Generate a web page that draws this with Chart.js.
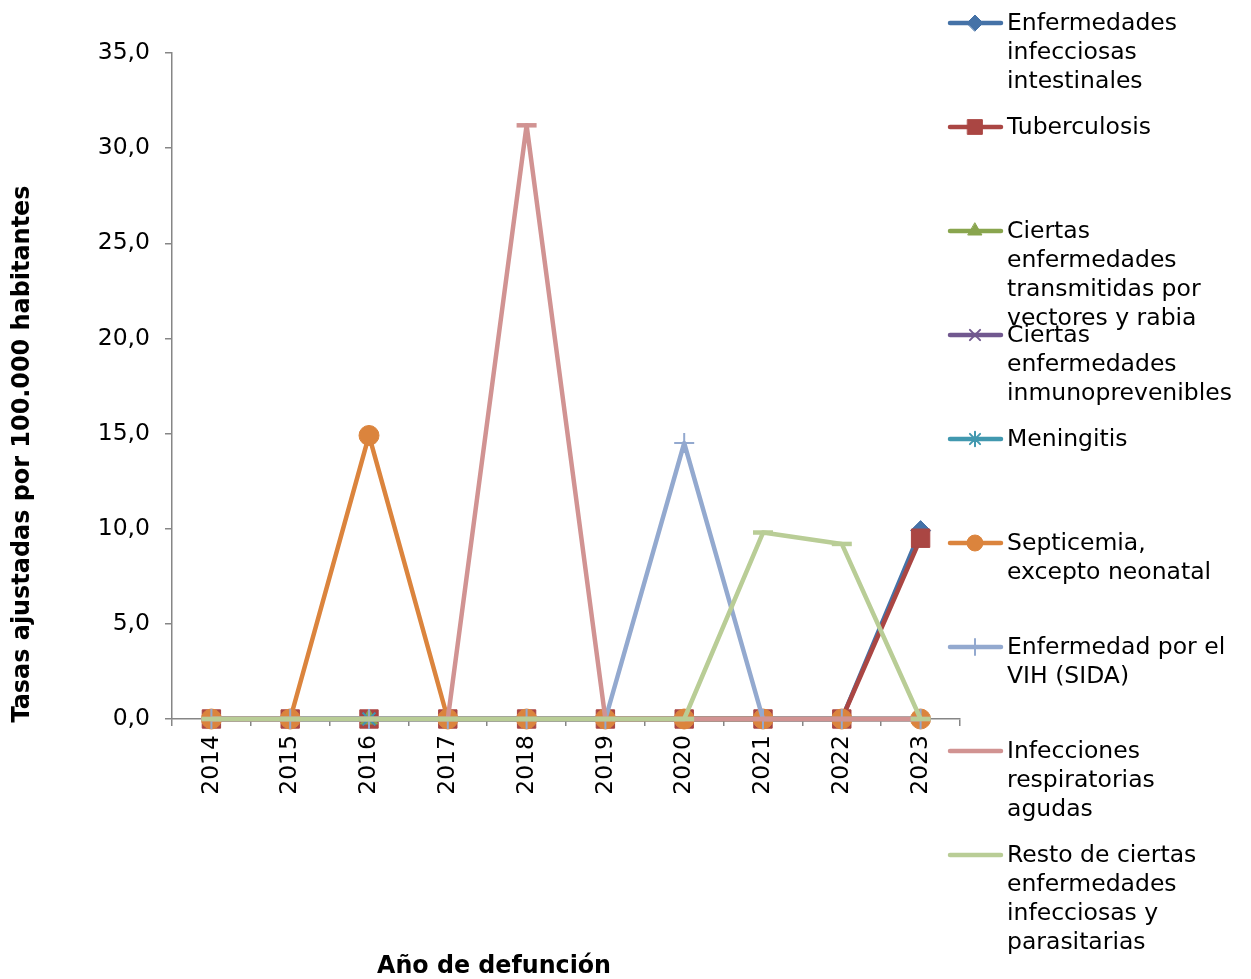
<!DOCTYPE html>
<html>
<head>
<meta charset="utf-8">
<script src="https://cdn.jsdelivr.net/npm/chart.js@4/dist/chart.umd.min.js"></script>
<style>
  body { margin: 0; background: #fff; }
  #chart { display: block; }
</style>
</head>
<body>
<canvas id="chart" width="1251" height="979"></canvas>
<script>
// data
const years = ['2014', '2015', '2016', '2017', '2018', '2019', '2020', '2021', '2022', '2023'];
const intestinales = [0, 0, 0, 0, 0, 0, 0, 0, 0, 9.9];
const tuberculosis = [0, 0, 0, 0, 0, 0, 0, 0, 0, 9.5];
const vectores = [0, 0, 0, 0, 0, 0, 0, 0, 0, 0];
const inmunoprevenibles = [0, 0, 0, 0, 0, 0, 0, 0, 0, 0];
const meningitis = [0, 0, 0, 0, 0, 0, 0, 0, 0, 0];
const septicemia = [0, 0, 14.9, 0, 0, 0, 0, 0, 0, 0];
const vih = [0, 0, 0, 0, 0, 0, 14.5, 0, 0, 0];
const respiratorias = [0, 0, 0, 0, 31.2, 0, 0, 0, 0, 0];
const resto = [0, 0, 0, 0, 0, 0, 0, 9.8, 9.2, 0];

const legendLabels = [
  ['Enfermedades', 'infecciosas', 'intestinales'],
  ['Tuberculosis'],
  ['Ciertas', 'enfermedades', 'transmitidas por', 'vectores y rabia'],
  ['Ciertas', 'enfermedades', 'inmunoprevenibles'],
  ['Meningitis'],
  ['Septicemia,', 'excepto neonatal'],
  ['Enfermedad por el', 'VIH (SIDA)'],
  ['Infecciones', 'respiratorias', 'agudas'],
  ['Resto de ciertas', 'enfermedades', 'infecciosas y', 'parasitarias']
];
const yTitle = 'Tasas ajustadas por 100.000 habitantes';
const xTitle = 'Año de defunción';

const FONT = '"DejaVu Sans", Verdana, sans-serif';

function serie(i, data, color, style, radius, pbw) {
  return {
    label: legendLabels[i].join(' '),
    data: data,
    borderColor: color,
    backgroundColor: color,
    borderWidth: 4.5,
    borderJoinStyle: 'round',
    fill: false,
    tension: 0,
    pointStyle: style,
    pointRadius: radius,
    pointHoverRadius: radius,
    pointBorderWidth: pbw,
    pointBackgroundColor: color,
    pointBorderColor: color,
    order: -i, // Excel paints the later series on top
    clip: 30
  };
}

const datasets = [
  serie(0, intestinales, '#4572A7', 'rectRot', 10, 1),
  serie(1, tuberculosis, '#AA4643', 'rect', 13, 1),
  serie(2, vectores, '#89A54E', 'triangle', 10, 1),
  serie(3, inmunoprevenibles, '#71588F', 'crossRot', 9, 2),
  serie(4, meningitis, '#4198AF', 'star', 9, 2),
  serie(5, septicemia, '#DB843D', 'circle', 10, 1),
  serie(6, vih, '#93A9CF', 'cross', 10, 2),
  serie(7, respiratorias, '#D19392', 'line', 10, 4.5),
  serie(8, resto, '#B9CD96', 'line', 10, 4.5)
];

// titles + legend drawn by hand (Excel-like layout)
const excelBits = {
  id: 'excelBits',
  afterDraw(chart) {
    const ctx = chart.ctx;
    ctx.save();
    ctx.fillStyle = '#000';

    // y title
    ctx.font = 'bold 24px ' + FONT;
    ctx.textAlign = 'center';
    ctx.textBaseline = 'middle';
    ctx.translate(23, 454);
    ctx.rotate(-Math.PI / 2);
    ctx.fillText(yTitle, 0, 0, 537);
    ctx.setTransform(1, 0, 0, 1, 0, 0);

    // x title
    ctx.font = 'bold 24px ' + FONT;
    ctx.fillText(xTitle, 494, 967, 234);

    // legend
    ctx.font = '23.5px ' + FONT;
    ctx.textAlign = 'left';
    chart.data.datasets.forEach((ds, i) => {
      const y = 23 + i * 104;
      ctx.strokeStyle = ds.borderColor;
      ctx.lineWidth = 4.5;
      ctx.lineCap = 'round';
      ctx.beginPath();
      ctx.moveTo(950, y);
      ctx.lineTo(1001, y);
      ctx.stroke();
      if (ds.pointStyle !== 'line') {
        ctx.fillStyle = ds.pointBackgroundColor;
        ctx.strokeStyle = ds.pointBorderColor;
        ctx.lineWidth = ds.pointBorderWidth;
        Chart.helpers.drawPoint(ctx, { pointStyle: ds.pointStyle, radius: ds.pointRadius * 0.8, rotation: 0, borderWidth: ds.pointBorderWidth }, 975, y);
      }
      ctx.fillStyle = '#000';
      legendLabels[i].forEach((t, k) => ctx.fillText(t, 1007, y + 1 + k * 29));
    });
    ctx.restore();
  }
};

new Chart(document.getElementById('chart').getContext('2d'), {
  type: 'line',
  data: { labels: years, datasets: datasets },
  options: {
    responsive: false,
    animation: false,
    events: [],
    layout: { padding: { left: 0, top: 53, right: 291, bottom: 0 } },
    plugins: {
      legend: { display: false },
      tooltip: { enabled: false },
      title: { display: false }
    },
    scales: {
      x: {
        offset: true,
        grid: { display: true, drawOnChartArea: false, drawTicks: true, tickLength: 7, offset: true, color: '#868686', lineWidth: 1.5 },
        border: { display: true, color: '#868686', width: 1.5 },
        ticks: { color: '#000', font: { family: FONT, size: 23.5 }, maxRotation: 90, minRotation: 90, padding: 9, autoSkip: false },
        afterFit(scale) { scale.height = 979 - 719; }
      },
      y: {
        min: 0,
        max: 35,
        grid: { display: true, drawOnChartArea: false, drawTicks: true, tickLength: 7, color: '#868686', lineWidth: 1.5 },
        border: { display: true, color: '#868686', width: 1.5 },
        ticks: {
          stepSize: 5,
          color: '#000',
          font: { family: FONT, size: 23.5 },
          padding: 15,
          callback: v => v.toFixed(1).replace('.', ',')
        },
        afterFit(scale) { scale.width = 172; }
      }
    }
  },
  plugins: [excelBits]
});
</script>
</body>
</html>
